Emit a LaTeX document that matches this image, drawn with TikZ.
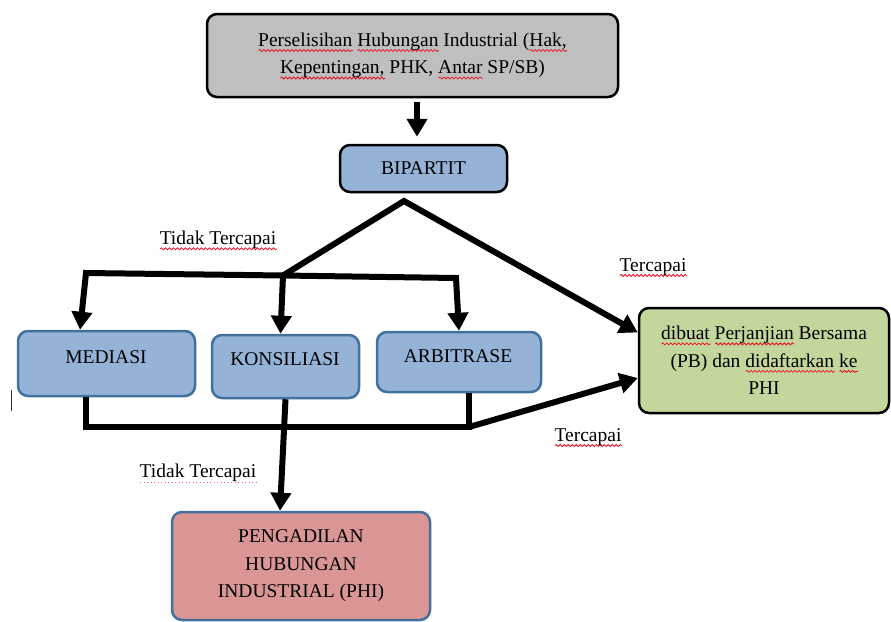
\documentclass[tikz,border=0pt]{standalone}
\usepackage{fontspec}
\setmainfont{Liberation Serif}
\newfontfamily\tnr{Liberation Serif}
\usetikzlibrary{arrows.meta,decorations.pathmorphing}
\definecolor{boxgray}{HTML}{BFBFBF}
\definecolor{boxblue}{HTML}{95B3D7}
\definecolor{edgeblue}{HTML}{41719C}
\definecolor{boxgreen}{HTML}{C3D69B}
\definecolor{boxred}{HTML}{D99694}
\definecolor{spellred}{HTML}{E81123}
\newlength\wavelen
\tikzset{
  wavy/.style={sharp corners, spellred, line width=0.8pt, decorate,
    decoration={snake,amplitude=1pt,segment length=4pt}},
  dotty/.style={sharp corners, spellred!70, line width=1pt, dash pattern=on 1pt off 2.5pt}
}
\newcommand\rw[1]{\setbox0\hbox{#1}\setlength\wavelen{\wd0}\rlap{\smash{\raisebox{-5.5pt}{\tikz[sharp corners]\draw[wavy] (0pt,0pt) -- (\wavelen,0pt);}}}#1}
\newcommand\rd[1]{\setbox0\hbox{#1}\setlength\wavelen{\wd0}\rlap{\smash{\raisebox{-5pt}{\tikz[sharp corners]\draw[dotty] (0pt,0pt) -- (\wavelen,0pt);}}}#1}
\begin{document}
\begin{tikzpicture}[x=1pt,y=-1pt,
  txt/.style={font=\tnr\fontsize{19.5}{27.5}\selectfont, align=center, inner sep=0pt, text=black},
  box/.style={txt, rounded corners=10pt, line width=2.5pt},
  blackbox/.style={box, draw=black},
  bluebox/.style={box, draw=edgeblue},
  conn/.style={line width=6pt, line join=miter, line cap=butt},
  arr/.style={conn, -{Triangle[length=18pt,width=20pt]}},
]
\useasboundingbox[fill=white] (0,0) rectangle (891,621);

% boxes
\node[blackbox, fill=boxgray, minimum width=411pt, minimum height=83pt] (top) at (412.5,55.5)
  {\rw{Perselisihan} \rw{Hubungan} Industrial (\rw{Hak,}\\\rw{Kepentingan,} PHK, \rw{Antar} SP/SB)};
\node[blackbox, fill=boxblue, minimum width=167pt, minimum height=47pt] (bip) at (423.5,168.5) {BIPARTIT};
\node[bluebox, fill=boxblue, minimum width=177pt, minimum height=65pt] (med) at (106.5,363.5) {};
\node[bluebox, fill=boxblue, minimum width=147pt, minimum height=63pt] (kon) at (285.5,366.5) {};
\node[bluebox, fill=boxblue, minimum width=164pt, minimum height=60pt] (arb) at (459,362) {};
\node[blackbox, fill=boxgreen, minimum width=250pt, minimum height=105pt] (pb) at (764,360.5)
  {\rw{dibuat} \rw{Perjanjian} Bersama\\(PB) dan \rw{didaftarkan} \rw{ke}\\PHI};
\node[bluebox, fill=boxred, minimum width=258pt, minimum height=108pt] (phi) at (301,566)
  {PENGADILAN\\HUBUNGAN\\INDUSTRIAL (PHI)};

% texts inside the three middle boxes
\node[txt] (medtxt) at (106,357) {MEDIASI};
\node[txt] (kontxt) at (285,359) {KONSILIASI};
\node[txt] (arbtxt) at (458,356) {ARBITRASE};

% labels
\node[txt] (ltt1) at (218,240) {\rw{Tidak Tercapai}};
\node[txt] (lt1) at (653,267) {\rw{Tercapai}};
\node[txt] (lt2) at (588,437) {\rw{Tercapai}};
\node[txt] (ltt2) at (198,473) {\rd{Tidak Tercapai}};

% junction coordinates
\coordinate (apex) at (404,201);
\coordinate (hL) at (86,273);
\coordinate (jL) at (283,275.5);
\coordinate (hR) at (456,278);
\coordinate (bL) at (86,427);
\coordinate (bR) at (469,427);

% connectors
\draw[arr] ([xshift=-6.5pt,yshift=-4pt]top.south -| bip.north) -- ([xshift=-6.5pt,yshift=7pt]bip.north);
\draw[arr] (jL) -- (apex) -- ([yshift=28pt]pb.west);
\draw[arr] (jL) -- (hL) -- ([xshift=-26.5pt]med.north);
\draw[arr] (jL) -- ([xshift=-5pt]kon.north);
\draw[arr] (jL) -- (hR) -- (arb.north);
\draw[conn] ([xshift=-20.5pt]med.south) -- (bL) -- (bR) -- ([xshift=10pt]arb.south);
\draw[arr] (bR) -- ([yshift=-17.5pt]pb.west);
\draw[arr] (kon.south) -- ([xshift=-21pt]phi.north);

% text cursor mark
\coordinate (cur1) at (11,390);
\coordinate (cur2) at (11,411);
\draw[line width=1pt, black!80] (cur1) -- (cur2);
\end{tikzpicture}
\end{document}
